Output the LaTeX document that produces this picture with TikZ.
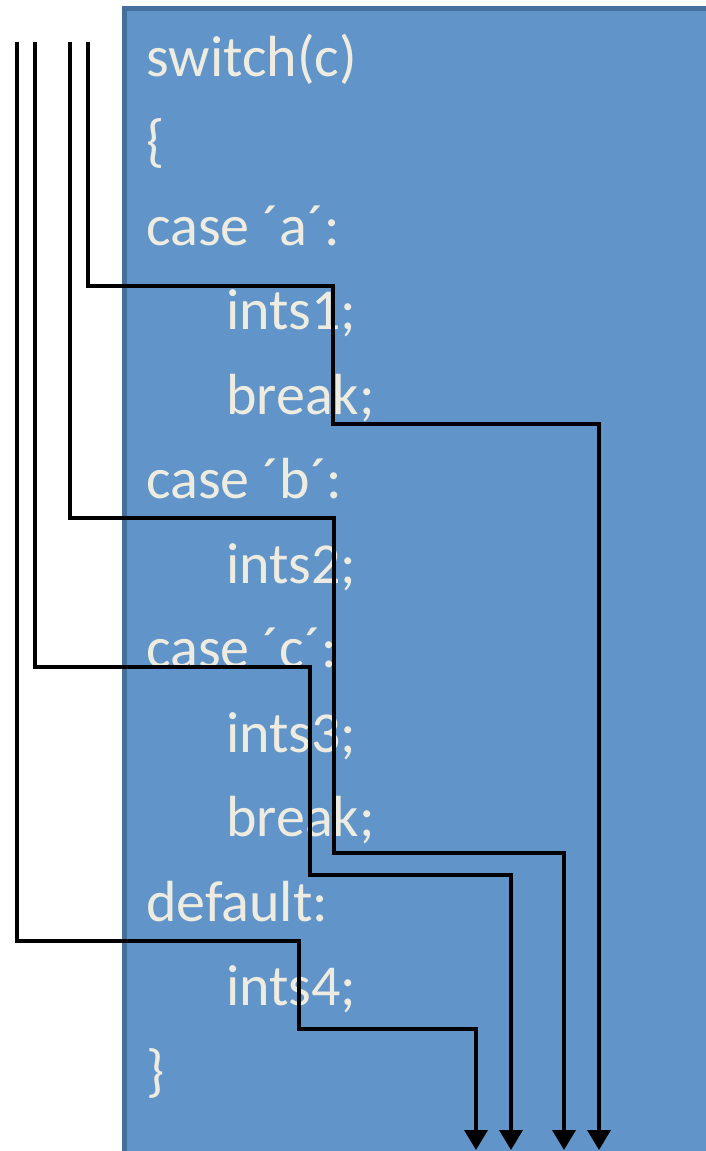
\documentclass[tikz,border=0pt]{standalone}
\usepackage{fontspec}
\setmainfont{Carlito}
\usetikzlibrary{arrows.meta}
\definecolor{boxfill}{HTML}{6195C9}
\definecolor{boxline}{HTML}{45709E}
\definecolor{codetext}{HTML}{EEECE1}

\begin{document}
\begin{tikzpicture}[x=1pt,y=-1pt,
    code/.style={anchor=base west,inner sep=0pt,text=codetext,font=\fontsize{58}{70}\selectfont},
    flow/.style={line width=3.6pt,-{Triangle[width=23pt,length=20pt]}}]
    \clip (0,0) rectangle (706,1151);
    \draw[fill=boxfill,draw=boxline,line width=5pt] (124.5,8.5) rectangle (740,1190);

    \node[code] (sw)  at (146,76)    {switch(c)};
    \node[code] (open) at (146,160.5) {\{};
    \node[code] (ca)  at (146,245)   {case ´a´:};
    \node[code] (i1)  at (226,329.5) {ints1;};
    \node[code] (b1)  at (226,414)   {break;};
    \node[code] (cb)  at (146,498.5) {case ´b´:};
    \node[code] (i2)  at (226,583)   {ints2;};
    \node[code] (cc)  at (146,667.5) {case ´c´:};
    \node[code] (i3)  at (226,752)   {ints3;};
    \node[code] (b3)  at (226,836.5) {break;};
    \node[code] (df)  at (146,921)   {default:};
    \node[code] (i4)  at (226,1005.5) {ints4;};
    \node[code] (close) at (146,1090) {\}};

    \coordinate (a0) at (88,42);  \coordinate (a1) at (333,286);
    \coordinate (a2) at (599,424); \coordinate (a3) at (599,1150);
    \coordinate (b0) at (70,42);  \coordinate (b1) at (334,518);
    \coordinate (b2) at (564,853); \coordinate (b3) at (564,1150);
    \coordinate (c0) at (35,42);  \coordinate (c1) at (310,667);
    \coordinate (c2) at (511,875); \coordinate (c3) at (511,1150);
    \coordinate (d0) at (17,42);  \coordinate (d1) at (299,941);
    \coordinate (d2) at (476,1029); \coordinate (d3) at (476,1150);

    \draw[flow] (a0) |- (a1) |- (a2) -- (a3);
    \draw[flow] (b0) |- (b1) |- (b2) -- (b3);
    \draw[flow] (c0) |- (c1) |- (c2) -- (c3);
    \draw[flow] (d0) |- (d1) |- (d2) -- (d3);
\end{tikzpicture}
\end{document}
